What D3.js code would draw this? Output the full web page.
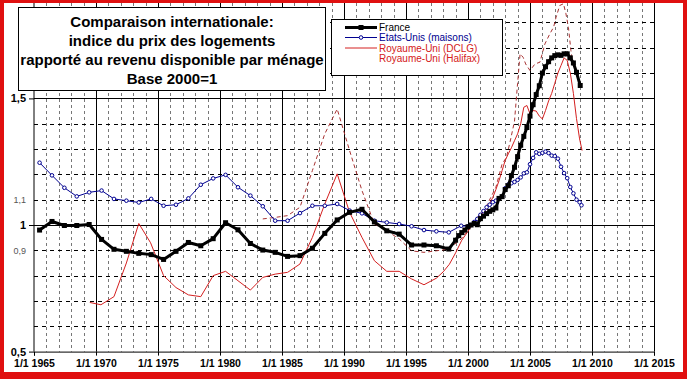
<!DOCTYPE html>
<html><head><meta charset="utf-8">
<script src="https://cdn.jsdelivr.net/npm/d3@7"></script>
<style>html,body{margin:0;padding:0;background:#fff}svg{display:block;font-family:"Liberation Sans",Arial,sans-serif}</style>
</head><body><svg id="c" width="687" height="379"></svg>
<script>
// ---- data (decimal years, index base 2000=1) ----
const franceYears = [1965.45,1966.45,1967.45,1968.45,1969.45,1970.45,1971.45,1972.45,1973.45,1974.45,1975.45,1976.45,1977.45,1978.45,1979.45,1980.45,1981.45,1982.45,1983.45,1984.45,1985.45,1986.45,1987.45,1988.45,1989.45,1990.45,1991.45,1992.45,1993.45,1994.45,1995.45,1996.45,1997.45,1998.45,
 1999.0,1999.25,1999.5,1999.75,2000.0,2000.25,2000.5,2000.75,2001.0,2001.25,2001.5,2001.75,2002.0,2002.25,2002.5,2002.75,2003.0,2003.25,2003.5,2003.75,2004.0,2004.25,2004.5,2004.75,2005.0,2005.25,2005.5,2005.75,2006.0,2006.25,2006.5,2006.75,2007.0,2007.25,2007.5,2007.75,2008.0,2008.25,2008.5,2008.75,2009.05];
const franceValues = [0.980,1.014,0.998,0.998,1.002,0.943,0.904,0.896,0.888,0.883,0.864,0.896,0.931,0.918,0.946,1.009,0.981,0.927,0.901,0.892,0.876,0.879,0.908,0.967,1.020,1.050,1.062,1.012,0.977,0.964,0.921,0.921,0.918,0.905,
 0.940,0.958,0.970,0.980,0.993,1.000,1.006,1.001,1.025,1.035,1.045,1.054,1.060,1.067,1.105,1.112,1.140,1.155,1.195,1.228,1.270,1.315,1.350,1.385,1.430,1.475,1.515,1.550,1.600,1.625,1.645,1.660,1.669,1.672,1.670,1.676,1.676,1.660,1.640,1.603,1.551];

const usYears = [1965.45,1966.45,1967.45,1968.45,1969.45,1970.45,1971.45,1972.45,1973.45,1974.45,1975.45,1976.45,1977.45,1978.45,1979.45,1980.45,1981.45,1982.45,1983.45,1984.45,1985.45,1986.45,1987.45,1988.45,1989.45,1990.45,1991.45,1992.45,1993.45,1994.45,1995.45,1996.45,1997.45,1998.45,1999.45,
 2000.0,2000.25,2000.5,2000.75,2001.0,2001.25,2001.5,2001.75,2002.0,2002.25,2002.5,2002.75,2003.0,2003.25,2003.5,2003.75,2004.0,2004.25,2004.5,2004.75,2005.0,2005.25,2005.5,2005.75,2006.0,2006.25,2006.5,2006.75,2007.0,2007.25,2007.5,2007.75,2008.0,2008.25,2008.5,2008.75,2009.0,2009.15];
const usValues = [1.246,1.196,1.147,1.113,1.129,1.136,1.103,1.096,1.089,1.103,1.076,1.080,1.105,1.159,1.184,1.198,1.149,1.116,1.074,1.017,1.017,1.047,1.076,1.076,1.083,1.057,1.046,1.017,1.010,1.004,0.995,0.980,0.975,0.971,0.997,
 0.995,1.000,1.012,1.024,1.040,1.055,1.070,1.080,1.090,1.096,1.105,1.112,1.145,1.160,1.165,1.170,1.178,1.188,1.204,1.208,1.240,1.265,1.287,1.281,1.285,1.290,1.284,1.274,1.272,1.262,1.230,1.205,1.185,1.150,1.125,1.100,1.090,1.078];

const dclgYears = [1969.5,1970.4,1971.45,1972.45,1973.45,1974.4,1975.45,1976.45,1977.45,1978.45,1979.45,1980.45,1981.45,1982.45,1983.45,1984.45,1985.45,1986.45,1987.45,1988.45,1989.45,1990.45,1991.45,1992.45,1993.45,1994.45,1995.45,1996.45,1997.45,
 1998.0,1998.5,1999.0,1999.5,2000.0,2000.25,2000.5,2000.75,2001.0,2001.25,2001.5,2001.75,2002.0,2002.25,2002.5,2002.75,2003.0,2003.25,2003.5,2003.75,2004.0,2004.25,2004.5,2004.75,2005.0,2005.25,2005.5,2005.75,2006.0,2006.25,2006.5,2006.75,2007.0,2007.25,2007.5,2007.75,2008.0,2008.25,2008.5,2008.75,2009.0,2009.2];
const dclgValues = [0.694,0.685,0.717,0.850,1.006,0.930,0.800,0.753,0.724,0.717,0.800,0.817,0.780,0.743,0.793,0.806,0.813,0.846,0.951,1.083,1.202,1.050,0.951,0.859,0.817,0.817,0.787,0.764,0.790,
 0.815,0.845,0.890,0.940,0.975,0.995,1.010,1.024,1.040,1.050,1.063,1.085,1.109,1.140,1.175,1.215,1.255,1.281,1.305,1.333,1.360,1.400,1.465,1.472,1.439,1.452,1.450,1.430,1.419,1.452,1.490,1.520,1.560,1.600,1.630,1.660,1.650,1.600,1.520,1.420,1.340,1.294];

const halifaxYears = [1983.45,1984.45,1985.45,1986.45,1987.45,1988.45,1989.45,1990.45,1991.45,1992.45,1993.45,1994.45,1995.45,1996.45,1997.45,1998.45,1999.45,2000.45,2001.5,2002.25,2002.75,2003.1,2003.4,2003.75,2004.0,2004.2,2004.45,2004.65,2005.0,2005.4,2005.8,2006.2,2006.6,2006.9,2007.1,2007.4,2007.7,2007.9,2008.1,2008.3,2008.5];
const halifaxValues = [1.024,1.030,1.037,1.070,1.215,1.360,1.458,1.294,1.136,1.004,0.977,0.945,0.898,0.892,0.898,0.905,0.945,1.010,1.076,1.149,1.241,1.267,1.330,1.410,1.560,1.676,1.662,1.636,1.610,1.636,1.643,1.715,1.755,1.781,1.820,1.867,1.874,1.834,1.780,1.689,1.623];

const xTickYears = [1965,1970,1975,1980,1985,1990,1995,2000,2005,2010,2015];
const yTickValues = [0.5,0.9,1,1.1,1.5];
const yTickLabels = ["0,5","0,9","1","1,1","1,5"];
const titleLines = ["Comparaison internationale:","indice du prix des logements","rapporté au revenu disponible par ménage","Base 2000=1"];
const legendLabels = ["France","Etats-Unis (maisons)","Royaume-Uni (DCLG)","Royaume-Uni (Halifax)"];

// ---- drawing ----
const svg = d3.select("#c");
const W = 687, H = 379;
const x = d3.scaleLinear().domain([1965, 2015]).range([34, 654]);
const y = d3.scaleLinear().domain([0.5, 1.5]).range([351.6, 98.4]);
const plotTop = 3;

svg.append("rect").attr("width", W).attr("height", H).attr("fill", "#e01010");
svg.append("rect").attr("x", 4).attr("y", 3).attr("width", 679).attr("height", 369).attr("fill", "#fff");

// grid
const gridYears = d3.range(1966, 2016);
svg.append("g").selectAll("line").data(gridYears).join("line")
  .attr("x1", d => Math.round(x(d)) + 0.5).attr("x2", d => Math.round(x(d)) + 0.5).attr("y1", plotTop).attr("y2", y(0.5))
  .attr("stroke", d => d % 5 === 0 ? "#000" : "#777")
  .attr("stroke-width", 1)
  .attr("stroke-dasharray", d => d % 5 === 0 ? null : "3,3");
const gridVals = d3.range(6, 19).map(d => d / 10);
svg.append("g").selectAll("line").data(gridVals).join("line")
  .attr("x1", x(1965)).attr("x2", x(2015))
  .attr("y1", d => Math.round(y(d)) + 0.5).attr("y2", d => Math.round(y(d)) + 0.5)
  .attr("stroke", "#000")
  .attr("stroke-dasharray", d => (Math.abs(d - 1) < 1e-9 || Math.abs(d - 1.5) < 1e-9) ? null : "4,4")
  .attr("stroke-width", 1);

// axes
const xAxis = svg.append("g").attr("transform", `translate(0,${y(0.5)})`)
  .call(d3.axisBottom(x).tickValues(xTickYears).tickFormat(d => "1/1 " + d).tickSizeOuter(0).tickSize(4).tickPadding(4));
xAxis.select(".domain").attr("stroke", "#000");
xAxis.selectAll("text").attr("font-size", "10.5px").attr("font-weight", "bold").attr("fill", "#000")
  .attr("font-family", "'Liberation Sans', Arial, sans-serif");

const yAxis = svg.append("g").attr("transform", `translate(${x(1965)},0)`)
  .call(d3.axisLeft(y).tickValues(yTickValues).tickFormat((d, i) => yTickLabels[i]).tickSizeOuter(0).tickSize(5).tickPadding(3));
yAxis.select(".domain").attr("d", `M0,${plotTop}V${y(0.5)}`).attr("stroke", "#000");
yAxis.selectAll(".tick").each(function(d) {
  const major = (d === 0.5 || d === 1 || d === 1.5);
  const g = d3.select(this);
  g.select("line").attr("stroke", major ? "#000" : "none");
  g.select("text").attr("font-size", major ? "11px" : "9px").attr("font-weight", major ? "bold" : "normal")
    .attr("fill", major ? "#000" : "#555").attr("font-family", "'Liberation Sans', Arial, sans-serif");
});

// series
const mk = (ys, vs) => ys.map((d, i) => [d, vs[i]]);
const france = mk(franceYears, franceValues);
const us = mk(usYears, usValues);
const dclg = mk(dclgYears, dclgValues);
const halifax = mk(halifaxYears, halifaxValues);
const line = d3.line().x(d => x(d[0])).y(d => y(d[1]));

svg.append("path").datum(halifax).attr("d", line).attr("fill", "none")
  .attr("stroke", "#a83232").attr("stroke-width", 1).attr("stroke-dasharray", "4,3");
svg.append("path").datum(dclg).attr("d", line).attr("fill", "none")
  .attr("stroke", "#d42020").attr("stroke-width", 1);
svg.append("path").datum(us).attr("d", line).attr("fill", "none")
  .attr("stroke", "#000090").attr("stroke-width", 1);
svg.append("g").selectAll("circle").data(us).join("circle")
  .attr("cx", d => x(d[0])).attr("cy", d => y(d[1])).attr("r", 1.8)
  .attr("fill", "#fff").attr("stroke", "#000090").attr("stroke-width", 1);
svg.append("path").datum(france).attr("d", line).attr("fill", "none")
  .attr("stroke", "#000").attr("stroke-width", 3).attr("stroke-linejoin", "round");
svg.append("g").selectAll("rect").data(france).join("rect")
  .attr("x", d => x(d[0]) - 2.5).attr("y", d => y(d[1]) - 2.5).attr("width", 5).attr("height", 5).attr("fill", "#000");

// title box
svg.append("rect").attr("x", 18.5).attr("y", 7.5).attr("width", 307).attr("height", 83)
  .attr("fill", "#fff").attr("stroke", "#000").attr("stroke-width", 1);
svg.append("g").selectAll("text").data(titleLines).join("text")
  .attr("x", 172).attr("y", (d, i) => 27 + i * 19)
  .attr("text-anchor", "middle").attr("font-size", "15px").attr("font-weight", "bold").attr("fill", "#000")
  .text(d => d);

// legend box
svg.append("rect").attr("x", 331.5).attr("y", 19.5).attr("width", 171).attr("height", 56)
  .attr("fill", "#fff").attr("stroke", "#000").attr("stroke-width", 1);
const legColors = ["#000", "#000090", "#d42020", "#d42020"];
const legY = [27.5, 37.5, 48, 58.5];
const lg = svg.append("g");
lg.append("line").attr("x1", 345).attr("x2", 377).attr("y1", legY[0]).attr("y2", legY[0]).attr("stroke", "#000").attr("stroke-width", 3);
lg.append("rect").attr("x", 358.5).attr("y", legY[0] - 2.5).attr("width", 5).attr("height", 5).attr("fill", "#000");
lg.append("line").attr("x1", 345).attr("x2", 377).attr("y1", legY[1]).attr("y2", legY[1]).attr("stroke", "#000090").attr("stroke-width", 1);
lg.append("circle").attr("cx", 361).attr("cy", legY[1]).attr("r", 1.8).attr("fill", "#fff").attr("stroke", "#000090");
lg.append("line").attr("x1", 345).attr("x2", 377).attr("y1", legY[2]).attr("y2", legY[2]).attr("stroke", "#d42020").attr("stroke-width", 1);
lg.selectAll("text").data(legendLabels).join("text")
  .attr("x", 379).attr("y", (d, i) => legY[i] + 3.5)
  .attr("font-size", "10px").attr("fill", (d, i) => legColors[i])
  .text(d => d);
</script></body></html>
